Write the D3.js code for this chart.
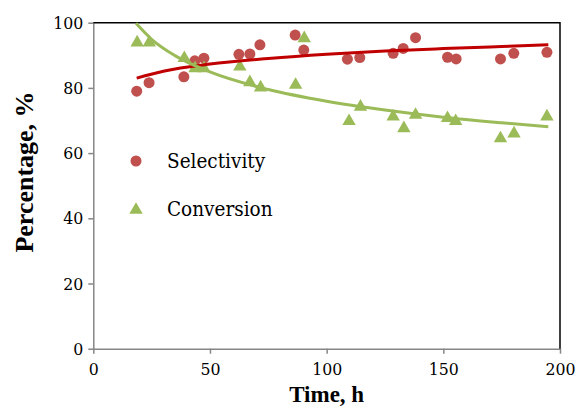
<!DOCTYPE html>
<html>
<head>
<meta charset="utf-8">
<script src="https://cdn.jsdelivr.net/npm/d3@7"></script>
<style>
  body { margin: 0; background: #fff; }
  svg text { font-family: "DejaVu Serif Condensed", "DejaVu Serif", serif; }
  svg text.title { font-family: "Liberation Serif", "Times New Roman", serif; font-weight: bold; }
</style>
</head>
<body>
<svg id="chart" width="577" height="407"></svg>
<script>
// Measured points (time in h, percentage)
const selTime = [18.6, 23.9, 38.8, 43.5, 47.4, 62.4, 67.1, 71.4, 86.5, 90.2, 108.9, 114.2, 128.5, 132.8, 138.1, 151.8, 155.5, 174.5, 180.2, 194.4]
const selValue = [79.0, 81.6, 83.4, 88.3, 89.1, 90.3, 90.4, 93.2, 96.2, 91.6, 88.8, 89.3, 90.6, 92.1, 95.4, 89.4, 88.9, 88.9, 90.6, 90.9]
const convTime = [18.8, 24.0, 39.0, 43.6, 47.4, 62.8, 67.1, 71.7, 86.7, 90.4, 109.6, 114.5, 128.5, 133.1, 138.1, 151.8, 155.3, 174.5, 180.3, 194.4]
const convValue = [93.9, 93.9, 89.1, 86.0, 86.0, 86.5, 81.7, 80.1, 80.9, 95.2, 69.8, 74.2, 71.2, 67.6, 71.7, 70.7, 69.8, 64.5, 66.0, 71.2]

// Trend lines
const selTrendTime = [18.6, 30, 50, 75, 100, 125, 150, 175, 195]
const selTrendValue = [83.0, 85.1, 87.3, 89.0, 90.3, 91.3, 92.05, 92.7, 93.2]
const convTrendTime = [18.3, 25, 35, 50, 75, 100, 125, 150, 175, 195]
const convTrendValue = [99.8, 94.9, 89.9, 84.9, 79.5, 75.9, 73.2, 71.0, 69.3, 68.1]

const xTicks = [0, 50, 100, 150, 200]
const yTicks = [0, 20, 40, 60, 80, 100]

const svg = d3.select('#chart')
const margin = { top: 22.7, right: 17, bottom: 58.3, left: 93.3 }
const width = 577
const height = 407

const x = d3.scaleLinear().domain([0, 200]).range([margin.left, width - margin.right])
const y = d3.scaleLinear().domain([0, 100]).range([height - margin.bottom, margin.top])

const gray = '#868686'
const red = '#C0504D'
const green = '#9BBB59'

// axes
const yAxis = svg.append('g')
  .attr('transform', `translate(${margin.left},0)`)
  .call(d3.axisLeft(y).tickValues(yTicks).tickSize(5).tickSizeOuter(0))
const xAxis = svg.append('g')
  .attr('transform', `translate(0,${height - margin.bottom})`)
  .call(d3.axisBottom(x).tickValues(xTicks).tickSize(5).tickSizeOuter(0))

;[yAxis, xAxis].forEach(g => {
  g.attr('font-family', null).attr('font-size', 17.5)
  g.select('.domain').attr('stroke', gray).attr('stroke-width', 1.5)
  g.selectAll('.tick line').attr('stroke', gray).attr('stroke-width', 1.5)
  g.selectAll('.tick text').attr('fill', '#000')
})
yAxis.selectAll('.tick text').attr('x', -10)
xAxis.selectAll('.tick text').attr('y', 14)

// top & right border
svg.append('path')
  .attr('d', `M${x(0)},${y(100)}H${x(200)}V${y(0)}`)
  .attr('fill', 'none')
  .attr('stroke', '#000')
  .attr('stroke-width', 1.5)

// markers
const selData = selTime.map((t, i) => [t, selValue[i]])
const convData = convTime.map((t, i) => [t, convValue[i]])

svg.append('g').selectAll('circle')
  .data(selData)
  .enter()
  .append('circle')
  .attr('cx', d => x(d[0]))
  .attr('cy', d => y(d[1]))
  .attr('r', 5.5)
  .attr('fill', red)

const tri = d3.symbol().type(d3.symbolTriangle).size(78)
svg.append('g').selectAll('path')
  .data(convData)
  .enter()
  .append('path')
  .attr('d', tri)
  .attr('transform', d => `translate(${x(d[0])},${y(d[1])})`)
  .attr('fill', green)

// trend lines
const line = d3.line()
  .x(d => x(d[0]))
  .y(d => y(d[1]))
  .curve(d3.curveMonotoneX)

svg.append('path')
  .attr('d', line(selTrendTime.map((t, i) => [t, selTrendValue[i]])))
  .attr('fill', 'none')
  .attr('stroke', '#C00000')
  .attr('stroke-width', 3)

svg.append('path')
  .attr('d', line(convTrendTime.map((t, i) => [t, convTrendValue[i]])))
  .attr('fill', 'none')
  .attr('stroke', green)
  .attr('stroke-width', 3)

// legend
const legend = svg.append('g')
legend.append('circle').attr('cx', 136).attr('cy', 161).attr('r', 5.5).attr('fill', red)
legend.append('path').attr('d', tri).attr('transform', 'translate(136,210)').attr('fill', green)
legend.append('text').attr('x', 167).attr('y', 168).attr('font-size', 20.5).text('Selectivity')
legend.append('text').attr('x', 167).attr('y', 216).attr('font-size', 20.5).text('Conversion')

// axis titles
svg.append('text')
  .attr('class', 'title')
  .attr('x', (x(0) + x(200)) / 2)
  .attr('y', 402)
  .attr('text-anchor', 'middle')
  .attr('font-size', 23)
  .text('Time, h')

svg.append('text')
  .attr('class', 'title')
  .attr('transform', 'translate(33,172) rotate(-90)')
  .attr('text-anchor', 'middle')
  .attr('font-size', 26)
  .text('Percentage, %')
</script>
</body>
</html>
